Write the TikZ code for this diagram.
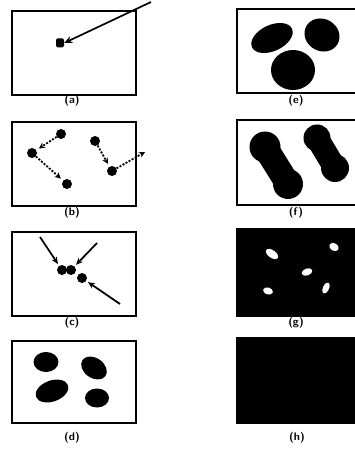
\documentclass[tikz,border=0pt]{standalone}
\usetikzlibrary{arrows.meta}
\begin{document}
\begin{tikzpicture}[x=1pt,y=-1pt,
  frame/.style={draw=black,line width=2pt},
  blackframe/.style={draw=black,fill=black,line width=2pt},
  lab/.style={font=\sffamily\bfseries\fontsize{11}{12}\selectfont,inner sep=0pt},
  dot/.style={circle,fill=black,inner sep=0pt,minimum size=10pt},
  arr/.style={line width=1.7pt,-{Stealth[length=8pt,width=7pt]}},
  darr/.style={line width=1.8pt,dash pattern=on 2pt off 1.5pt,-{Stealth[length=6pt,width=6pt]},shorten >=3pt},
  carr/.style={line width=1.8pt,-{Stealth[length=7pt,width=6pt]},shorten >=2pt}]
\useasboundingbox (0,0) rectangle (355,454);
% ---------- (a)
\draw[frame] (12,11) rectangle (136,95);
\node[fill=black,rounded corners=1.5pt,minimum width=8pt,minimum height=9pt,inner sep=0pt] (a0) at (60,43) {};
\coordinate (a1) at (151,2);
\draw[arr] (a1) -- (a0.east);
\node[lab] (la) at (72,101) {(a)};
% ---------- (b)
\draw[frame] (12,122) rectangle (136,206);
\node[dot] (bA) at (61,134) {};
\node[dot] (bB) at (32,153) {};
\node[dot] (bC) at (67,184) {};
\node[dot] (bD) at (95,141) {};
\node[dot] (bE) at (112,171) {};
\coordinate (bF) at (145,152);
\draw[darr] (bA) -- (bB);
\draw[darr] (bB) -- (bC);
\draw[darr] (bD) -- (bE);
\draw[darr,shorten >=0pt] (bE) -- (bF);
\node[lab] (lb) at (72,213) {(b)};
% ---------- (c)
\draw[frame] (12,232) rectangle (136,316);
\node[dot] (c1) at (62,270) {};
\node[dot] (c2) at (71,270) {};
\node[dot] (c3) at (82,278) {};
\coordinate (c1s) at (40,237);
\coordinate (c2s) at (97,243);
\coordinate (c3s) at (120,304);
\draw[carr] (c1s) -- (c1);
\draw[carr] (c2s) -- (c2);
\draw[carr] (c3s) -- (c3);
\node[lab] (lc) at (72,323) {(c)};
% ---------- (d)
\draw[frame] (12,341) rectangle (136,423);
\fill (46,362) ellipse [x radius=12.5, y radius=10];
\fill (94,368) ellipse [x radius=14, y radius=10, rotate=-35];
\fill (52,391) ellipse [x radius=17, y radius=10.5, rotate=20];
\fill (97,398) ellipse [x radius=12, y radius=9.5];
\node[lab] (ld) at (72,438) {(d)};
% ---------- (e)
\draw[frame] (237,9) rectangle (356,93);
\fill (272,38) ellipse [x radius=22, y radius=13, rotate=25];
\fill (322,35) ellipse [x radius=18, y radius=16, rotate=-30];
\fill (293,70) ellipse [x radius=22, y radius=20];
\node[lab] (le) at (296,101) {(e)};
% ---------- (f)
\draw[frame] (237,120) rectangle (356,205);
\fill (265,147) circle [radius=15.5];
\fill (288,184) circle [radius=15];
\draw[line width=25pt] (265,147) -- (288,184);
\fill (317,138) circle [radius=13.5];
\fill (335,168) circle [radius=14];
\draw[line width=23pt] (317,138) -- (335,168);
\node[lab] (lf) at (296,213) {(f)};
% ---------- (g)
\draw[blackframe] (237,229) rectangle (356,316);
\fill[white] (272,254) ellipse [x radius=7, y radius=3.8, rotate=-35];
\fill[white] (334,247) ellipse [x radius=5, y radius=3.8, rotate=-30];
\fill[white] (307,272) ellipse [x radius=5.5, y radius=3.5, rotate=20];
\fill[white] (268,291) ellipse [x radius=5, y radius=3.5, rotate=-15];
\fill[white] (326,288) ellipse [x radius=6, y radius=3, rotate=65];
\node[lab] (lg) at (296,323) {(g)};
% ---------- (h)
\draw[blackframe] (237,338) rectangle (356,423);
\node[lab] (lh) at (297,438) {(h)};
\end{tikzpicture}
\end{document}
